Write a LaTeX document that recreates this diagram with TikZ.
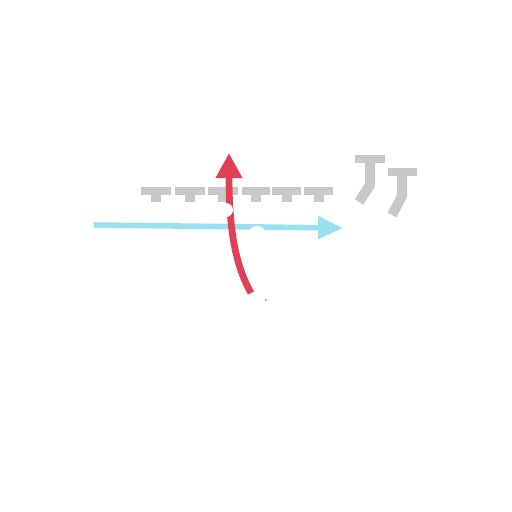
\documentclass[tikz,border=0pt]{standalone}
\usetikzlibrary{arrows.meta}
\definecolor{tgray}{RGB}{200,200,200}
\definecolor{tred}{RGB}{224,64,86}
\definecolor{tcyan}{RGB}{155,224,240}
\definecolor{tpink}{RGB}{236,120,150}
\begin{document}
\begin{tikzpicture}[x=1pt,y=-1pt,
  bar/.style={fill=tgray},
  stem/.style={draw=tgray,line width=10pt,line cap=butt,line join=miter},
  redarrow/.style={draw=tred,line width=6.8pt,-{Triangle[length=25pt,width=25pt]}},
  cyanarrow/.style={draw=tcyan,line width=5.6pt,-{Triangle[length=25pt,width=22pt]}},
  gap/.style={fill=white}]
\useasboundingbox (0,0) rectangle (512,512);
% gray T marks
\foreach \a/\b in {141/171,175/205,208/238,242/270,272/301,304/333}{
  \fill[tgray] (\a,187) rectangle (\b,195);
  \fill[tgray] ({(\a+\b)/2-5},195) rectangle ({(\a+\b)/2+5},202);
}
% right marks
\fill[tgray] (355,155) rectangle (385,163);
\draw[stem] (370,163) -- (370,185) -- (359,202);
\fill[tgray] (388,168) rectangle (417,176);
\draw[stem] (402,176) -- (402,196) -- (392,215);
% arrows
\coordinate (cs) at (94,225);
\coordinate (ct) at (343,228);
\draw[cyanarrow] (cs) -- (ct);
\coordinate (rs) at (251,293);
\coordinate (rt) at (229,153);
\draw[redarrow] (rs) .. controls (237,268) and (229,235) .. (rt);
% white gaps
\fill[gap] (226,210) circle (7);
\fill[gap] (257,235) circle (9);
\fill[tpink] (266,300) circle (1.2);
\end{tikzpicture}
\end{document}
